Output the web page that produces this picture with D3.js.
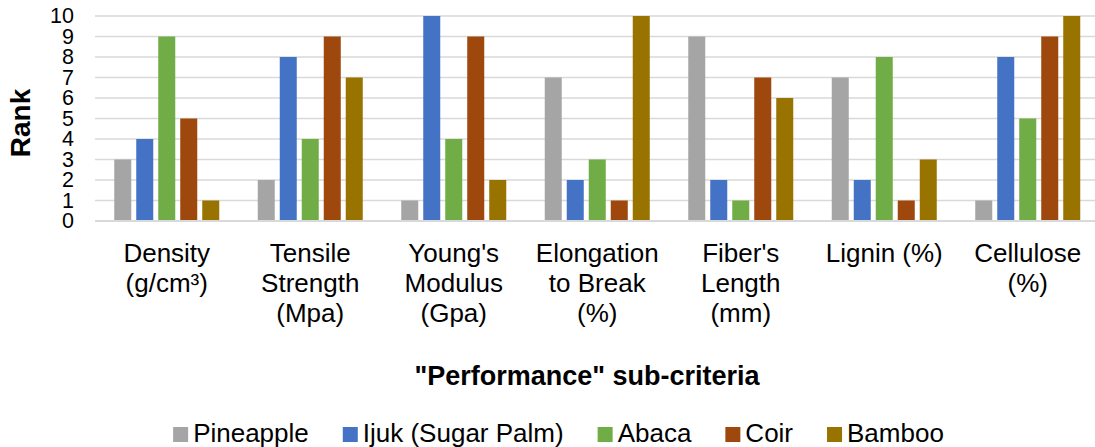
<!DOCTYPE html>
<html>
<head>
<meta charset="utf-8">
<script src="https://cdn.jsdelivr.net/npm/d3@7"></script>
<style>
  html, body { margin: 0; padding: 0; background: #fff; }
  svg { display: block; font-family: "Liberation Sans", Arial, sans-serif; }
</style>
</head>
<body>
<svg id="chart" width="1095" height="447"></svg>
<script>
// Sub-criteria (x categories), each label split into lines
const categories = [
  ["Density", "(g/cm³)"],
  ["Tensile", "Strength", "(Mpa)"],
  ["Young's", "Modulus", "(Gpa)"],
  ["Elongation", "to Break", "(%)"],
  ["Fiber's", "Length", "(mm)"],
  ["Lignin (%)"],
  ["Cellulose", "(%)"]
];
const seriesNames = ["Pineapple", "Ijuk (Sugar Palm)", "Abaca", "Coir", "Bamboo"];
const seriesColors = ["#A5A5A5", "#4472C4", "#70AD47", "#9E480E", "#997300"];

// Rank of each fibre per sub-criterion
const pineapple = [3, 2, 1, 7, 9, 7, 1];
const ijuk      = [4, 8, 10, 2, 2, 2, 8];
const abaca     = [9, 4, 4, 3, 1, 8, 5];
const coir      = [5, 9, 9, 1, 7, 1, 9];
const bamboo    = [1, 7, 2, 10, 6, 3, 10];
const seriesValues = [pineapple, ijuk, abaca, coir, bamboo];

const yTicks = [0, 1, 2, 3, 4, 5, 6, 7, 8, 9, 10];

const svg = d3.select("#chart");
const plot = { left: 95, right: 1099.5, top: 16, bottom: 221 };

const catKeys = categories.map((c, i) => i);
const x0 = d3.scaleBand().domain(catKeys).range([plot.left, plot.right]).padding(0);
const x1 = d3.scaleBand().domain(d3.range(seriesNames.length))
  .range([-55, 55]).paddingInner(0.227).paddingOuter(0.1135);
const y = d3.scaleLinear().domain([0, 10]).range([plot.bottom, plot.top]);

// Horizontal gridlines
svg.append("g")
  .selectAll("line")
  .data(yTicks)
  .join("line")
  .attr("x1", plot.left)
  .attr("x2", 1095)
  .attr("y1", d => y(d))
  .attr("y2", d => y(d))
  .attr("stroke", "#D9D9D9")
  .attr("stroke-width", 1.6);

// Y axis labels
const yAxis = d3.axisLeft(y).tickValues(yTicks).tickSize(0).tickPadding(0);
const yG = svg.append("g").attr("transform", "translate(74,0)").call(yAxis);
yG.select(".domain").remove();
yG.selectAll("text")
  .attr("font-size", 21.5)
  .attr("font-family", "'Liberation Sans', Arial, sans-serif")
  .attr("fill", "#000");

// Bars
const groups = svg.append("g")
  .selectAll("g")
  .data(catKeys)
  .join("g")
  .attr("transform", d => `translate(${x0(d) + x0.bandwidth() / 2},0)`);

groups.selectAll("rect")
  .data(ci => seriesValues.map((vals, si) => ({ si, v: vals[ci] })))
  .join("rect")
  .attr("x", d => x1(d.si))
  .attr("width", x1.bandwidth())
  .attr("y", d => y(d.v))
  .attr("height", d => y(0) - y(d.v))
  .attr("fill", d => seriesColors[d.si]);

// Category axis line
svg.append("line")
  .attr("x1", plot.left).attr("x2", 1095)
  .attr("y1", y(0)).attr("y2", y(0))
  .attr("stroke", "#D9D9D9").attr("stroke-width", 1.8);

// Category labels (multi-line)
const catLabels = svg.append("g")
  .selectAll("text")
  .data(catKeys)
  .join("text")
  .attr("text-anchor", "middle")
  .attr("font-size", 26)
  .attr("fill", "#000")
  .attr("x", d => x0(d) + x0.bandwidth() / 2)
  .attr("y", 262);
catLabels.selectAll("tspan")
  .data(d => categories[d].map(line => ({ line, x: x0(d) + x0.bandwidth() / 2 })))
  .join("tspan")
  .attr("x", d => d.x)
  .attr("dy", (d, i) => i === 0 ? 0 : 30)
  .text(d => d.line);

// Axis titles
svg.append("text")
  .attr("x", 587).attr("y", 385)
  .attr("text-anchor", "middle")
  .attr("font-size", 27)
  .attr("font-weight", "bold")
  .text("\"Performance\" sub-criteria");

svg.append("text")
  .attr("transform", "translate(30,123) rotate(-90)")
  .attr("text-anchor", "middle")
  .attr("font-size", 28)
  .attr("font-weight", "bold")
  .text("Rank");

// Legend, laid out from measured text widths and centred
const legend = svg.append("g");
const items = legend.selectAll("g")
  .data(seriesNames)
  .join("g");
items.append("rect")
  .attr("width", 15).attr("height", 15)
  .attr("y", 427)
  .attr("fill", (d, i) => seriesColors[i]);
items.append("text")
  .attr("x", 20).attr("y", 442)
  .attr("font-size", 26)
  .attr("fill", "#000")
  .text(d => d);

const gap = 34;
let widths = [];
items.each(function () {
  widths.push(20 + this.querySelector("text").getComputedTextLength());
});
const total = d3.sum(widths) + gap * (widths.length - 1);
let cx = 558.5 - total / 2;
items.attr("transform", (d, i) => {
  const t = `translate(${cx},0)`;
  cx += widths[i] + gap;
  return t;
});
</script>
</body>
</html>
